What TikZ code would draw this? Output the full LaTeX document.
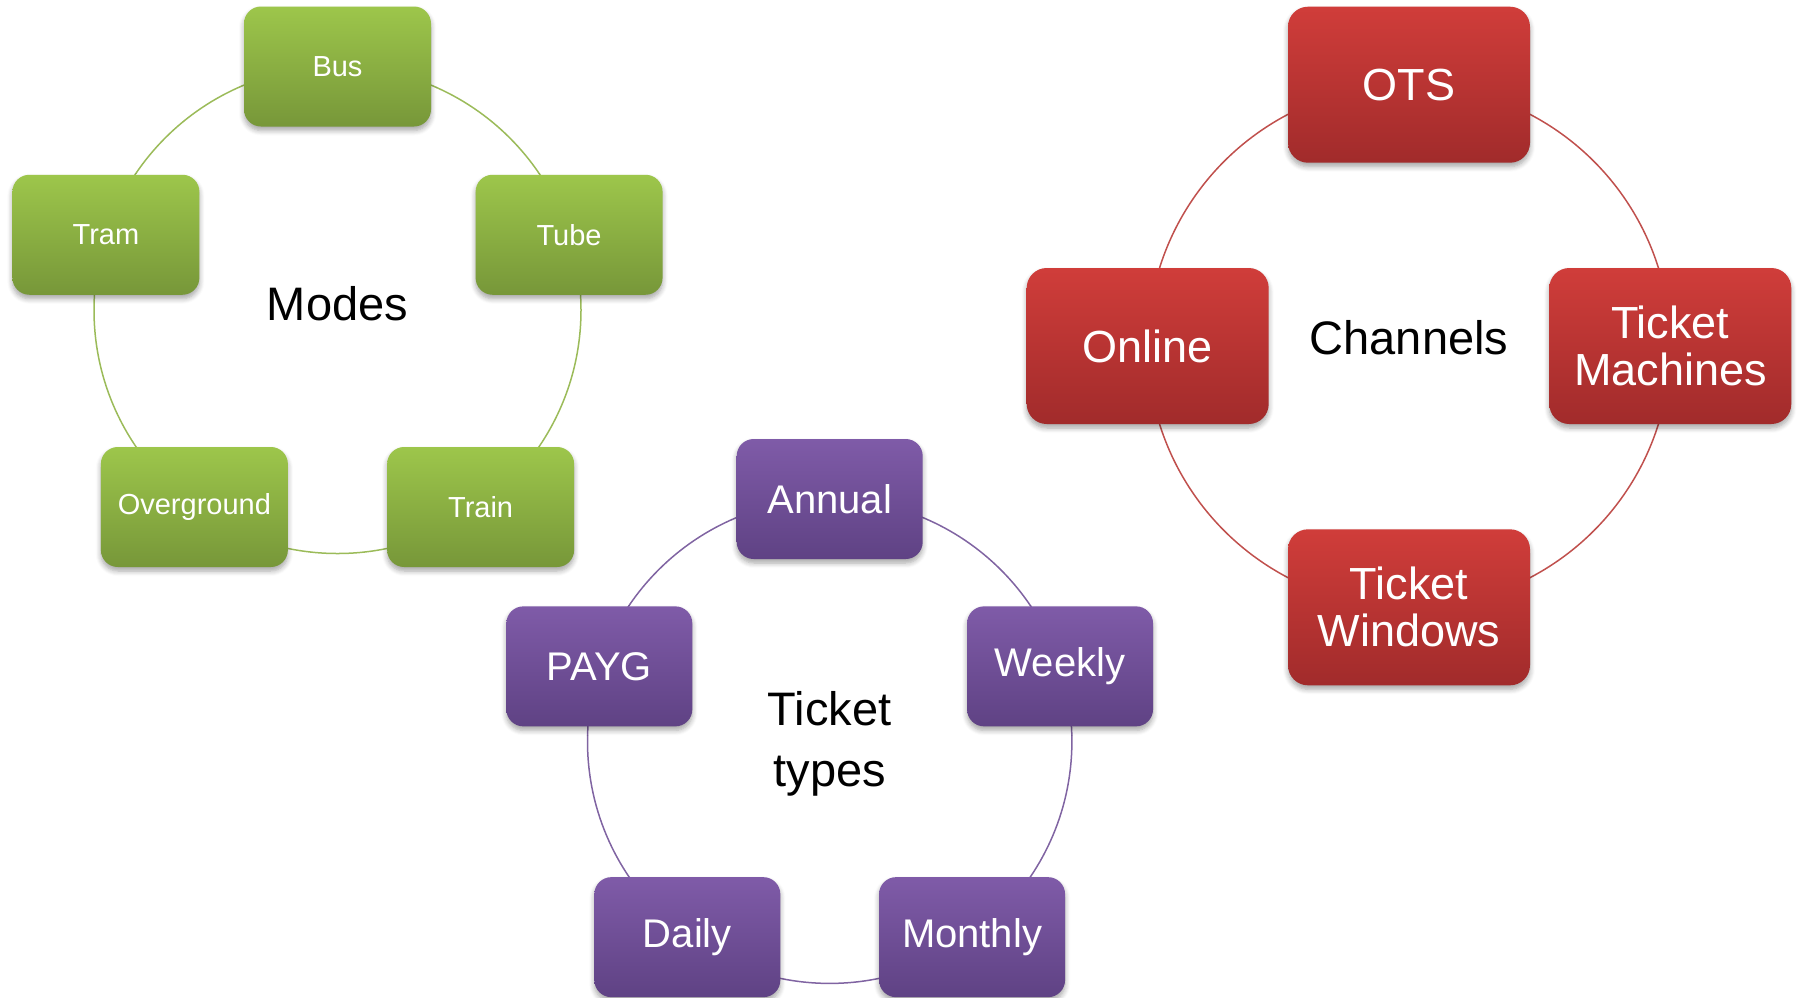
\documentclass[tikz,border=0pt]{standalone}
\usepackage{fontspec}
\setmainfont{Liberation Sans}
\usetikzlibrary{shadows.blur}
\definecolor{gtop}{HTML}{9DC64B}
\definecolor{gbot}{HTML}{779739}
\definecolor{gline}{HTML}{9BBB59}
\definecolor{rtop}{HTML}{D03D3A}
\definecolor{rbot}{HTML}{A12B2B}
\definecolor{rline}{HTML}{C0504D}
\definecolor{ptop}{HTML}{7F5BA8}
\definecolor{pbot}{HTML}{5F4284}
\definecolor{pline}{HTML}{8064A2}
\begin{document}
\begin{tikzpicture}[x=1pt,y=1pt,
  box/.style={rounded corners=17pt, text=white, align=center, inner sep=0pt,
    blur shadow={shadow xshift=0pt, shadow yshift=-4pt, shadow blur radius=5pt,
      shadow blur steps=6, shadow opacity=35}},
  gbox/.style={box, minimum width=187pt, minimum height=120pt,
    top color=gtop, bottom color=gbot, font=\fontsize{29}{31}\selectfont},
  rbox/.style={box, rounded corners=20pt, minimum width=242pt, minimum height=156pt,
    top color=rtop, bottom color=rbot, font=\fontsize{45}{47}\selectfont},
  pbox/.style={box, minimum width=186pt, minimum height=120pt,
    top color=ptop, bottom color=pbot, font=\fontsize{40}{42}\selectfont},
  ring/.style={line width=1.5pt},
  clabel/.style={inner sep=0pt, text=black, font=\fontsize{47}{61}\selectfont, align=center}
]
\useasboundingbox (0,0) rectangle (1797,-997);

% Modes
\coordinate (gc) at (337.5,-310);
\draw[ring, draw=gline] (gc) circle[radius=243.5];
\node[gbox] (bus)   at ([shift={(90:243.5)}]gc)  {Bus};
\node[gbox] (tube)  at ([shift={(18:243.5)}]gc)  {Tube};
\node[gbox] (train) at ([shift={(-54:243.5)}]gc) {Train};
\node[gbox] (over)  at ([shift={(234:243.5)}]gc) {Overground};
\node[gbox] (tram)  at ([shift={(162:243.5)}]gc) {Tram};
\node[clabel, anchor=base] (modes) at (337.5,-320) {Modes};

% Channels
\coordinate (rc) at (1409,-346);
\draw[ring, draw=rline] (rc) circle[radius=261.3];
\node[rbox] (ots)  at ([shift={(90:261.3)}]rc)  {OTS};
\node[rbox] (tm)   at ([shift={(0:261.3)}]rc)   {Ticket\\Machines};
\node[rbox] (tw)   at ([shift={(270:261.3)}]rc) {Ticket\\Windows};
\node[rbox] (onl)  at ([shift={(180:261.3)}]rc) {Online};
\node[clabel, anchor=base] (chan) at (1409,-354) {Channels};

% Ticket types
\coordinate (pc) at (829.7,-741.2);
\draw[ring, draw=pline] (pc) circle[radius=242.2];
\node[pbox] (annual)  at ([shift={(90:242.2)}]pc)  {Annual};
\node[pbox] (weekly)  at ([shift={(18:242.2)}]pc)  {Weekly};
\node[pbox] (monthly) at ([shift={(-54:242.2)}]pc) {Monthly};
\node[pbox] (daily)   at ([shift={(234:242.2)}]pc) {Daily};
\node[pbox] (payg)    at ([shift={(162:242.2)}]pc) {PAYG};
\node[clabel] (ttypes) at (829.7,-744) {Ticket\\types};
\end{tikzpicture}
\end{document}
